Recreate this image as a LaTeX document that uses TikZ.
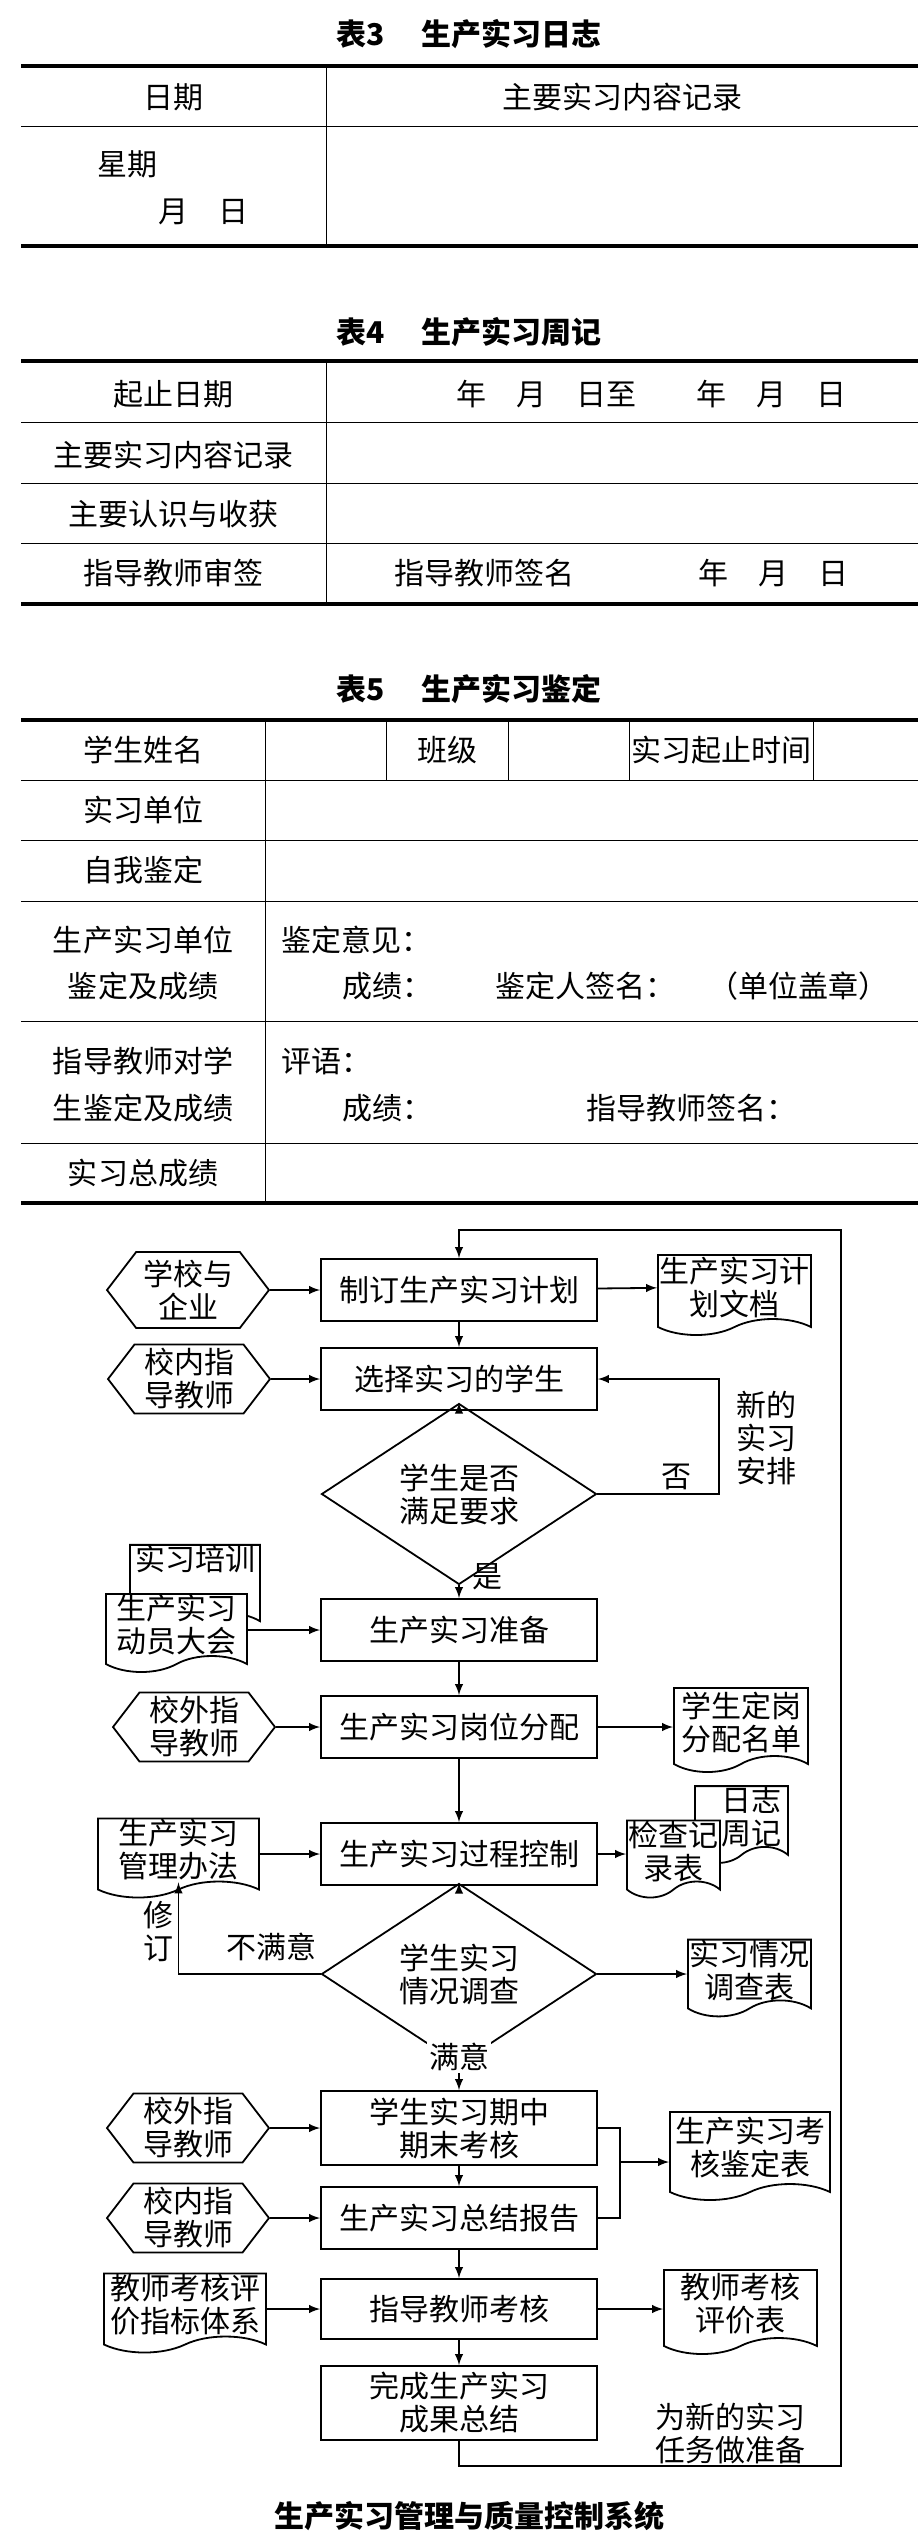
\documentclass[tikz,border=0pt]{standalone}
\usepackage{fontspec}
\setmainfont{Noto Sans CJK SC}
\usetikzlibrary{shapes.geometric,shapes.symbols}

\begin{document}
\begin{tikzpicture}[x=0.5pt,y=-0.5pt,line width=0.9pt,>=latex,
  font=\fontsize{15pt}{16.5pt}\selectfont,
  thickrule/.style={line width=1.75pt},
  thinrule/.style={line width=0.5pt},
  celltxt/.style={inner sep=0pt},
  lefttxt/.style={inner sep=0pt,anchor=west},
  ttlfont/.style={inner sep=0pt,font=\fontsize{15pt}{16.5pt}\selectfont\bfseries},
  flowtxt/.style={align=center,inner sep=1pt},
  procbox/.style={draw,minimum width=138pt,minimum height=31pt,align=center,inner sep=1pt},
  hexbox/.style={draw,signal,signal to=west and east,signal pointer angle=105,minimum width=81pt,minimum height=34.5pt,align=center,inner sep=0pt},
  docbox/.style={draw,fill=white,tape,tape bend top=none,tape bend bottom=in and out,tape bend height=8pt,align=center,inner sep=0pt},
  decbox/.style={draw,diamond,minimum width=137.5pt,minimum height=61pt,align=center,inner sep=0pt}]
  \useasboundingbox (0,0) rectangle (924,2538);

  \node[ttlfont] (T3) at (469,34) {表3\hspace{18pt}生产实习日志};
  \draw[thickrule] (21,66) -- (918,66) (21,246) -- (918,246);
  \draw[thinrule] (21,126) -- (918,126) (326,66) -- (326,246);
  \node[celltxt] (T3a) at (173.5,97) {日期};
  \node[celltxt] (T3b) at (622,97) {主要实习内容记录};
  \node[celltxt] (T3c) at (127,164) {星期};
  \node[celltxt] (T3d) at (203.5,212) {月\quad 日};

  \node[ttlfont] (T4) at (469,332) {表4\hspace{18pt}生产实习周记};
  \draw[thickrule] (21,361) -- (918,361) (21,604) -- (918,604);
  \draw[thinrule] (21,422) -- (918,422) (21,483) -- (918,483) (21,543) -- (918,543)
    (326,361) -- (326,604);
  \node[celltxt] (T4a) at (173.5,394) {起止日期};
  \node[celltxt] (T4b) at (651.5,394) {年\quad 月\quad 日至\qquad 年\quad 月\quad 日};
  \node[celltxt] (T4c) at (173.5,455) {主要实习内容记录};
  \node[celltxt] (T4d) at (173.5,514) {主要认识与收获};
  \node[celltxt] (T4e) at (173.5,573) {指导教师审签};
  \node[celltxt] (T4f) at (484,573) {指导教师签名};
  \node[celltxt] (T4g) at (773.5,573) {年\quad 月\quad 日};

  \node[ttlfont] (T5) at (469,689) {表5\hspace{18pt}生产实习鉴定};
  \draw[thickrule] (21,720) -- (918,720) (21,1203) -- (918,1203);
  \draw[thinrule] (21,780) -- (918,780) (21,840) -- (918,840) (21,901) -- (918,901)
    (21,1021) -- (918,1021) (21,1143) -- (918,1143) (265,720) -- (265,1203)
    (386,720) -- (386,780) (508,720) -- (508,780) (629,720) -- (629,780) (813,720) -- (813,780);
  \node[celltxt] (T5a) at (143,750) {学生姓名};
  \node[celltxt] (T5b) at (447,750) {班级};
  \node[celltxt] (T5c) at (721,750) {实习起止时间};
  \node[celltxt] (T5d) at (143,810) {实习单位};
  \node[celltxt] (T5e) at (143,870) {自我鉴定};
  \node[celltxt] (T5f) at (143,940) {生产实习单位};
  \node[celltxt] (T5g) at (143,986) {鉴定及成绩};
  \node[lefttxt] (T5h) at (281,940) {鉴定意见：};
  \node[lefttxt] (T5i) at (342,986) {成绩：};
  \node[lefttxt] (T5j) at (495,986) {鉴定人签名：};
  \node[lefttxt] (T5k) at (708,986) {（单位盖章）};
  \node[celltxt] (T5l) at (143,1061) {指导教师对学};
  \node[celltxt] (T5m) at (143,1108) {生鉴定及成绩};
  \node[lefttxt] (T5n) at (281,1061) {评语：};
  \node[lefttxt] (T5o) at (342,1108) {成绩：};
  \node[lefttxt] (T5p) at (586,1108) {指导教师签名：};
  \node[celltxt] (T5q) at (143,1173) {实习总成绩};

  \node[procbox] (Plan) at (459,1290) {制订生产实习计划};
  \node[hexbox,minimum height=38pt] (School) at (188,1290) {学校与\\企业};
  \node[docbox,minimum width=76.5pt,minimum height=40pt] (PlanDoc) at (734.5,1287) {生产实习计\\划文档};
  \node[procbox] (Select) at (459,1379) {选择实习的学生};
  \node[hexbox] (TutorIn) at (189,1379) {校内指\\导教师};
  \node[decbox] (Meet) at (459,1494) {学生是否\\满足要求};
  \node[flowtxt] (No) at (676,1477) {否};
  \node[flowtxt] (NewPlan) at (766,1438) {新的\\实习\\安排};
  \node[flowtxt] (Yes) at (487,1577) {是};
  \node[procbox] (Prep) at (459,1630) {生产实习准备};
  \node[docbox,minimum width=65pt,minimum height=39pt] (Train) at (195,1579) {实习培训\\ \strut};
  \node[docbox,minimum width=70.5pt,minimum height=39pt] (Mobil) at (176.5,1625) {生产实习\\动员大会};
  \node[procbox] (Post) at (459,1727) {生产实习岗位分配};
  \node[hexbox] (TutorOut) at (194,1727) {校外指\\导教师};
  \node[docbox,minimum width=67pt,minimum height=42pt] (PostDoc) at (741,1722) {学生定岗\\分配名单};
  \node[procbox] (Control) at (459,1854) {生产实习过程控制};
  \node[docbox,minimum width=80.5pt,minimum height=39.5pt] (Rules) at (178.5,1850) {生产实习\\管理办法};
  \node[docbox,minimum width=46.5pt,minimum height=35.5pt] (Diary) at (741.5,1816.5) {\hspace*{10pt}日志\\\hspace*{10pt}周记};
  \node[docbox,minimum width=46.5pt,minimum height=38.5pt] (Check) at (673.5,1851) {检查记\\录表};
  \node[decbox] (Survey) at (459,1974) {学生实习\\情况调查};
  \node[flowtxt] (Revise) at (158,1931) {修\\订};
  \node[flowtxt] (Unsat) at (271,1947) {不满意};
  \node[docbox,minimum width=61.5pt,minimum height=36.5pt] (SurveyDoc) at (749.5,1970) {实习情况\\调查表};
  \node[procbox,minimum height=37pt] (Exam) at (459,2128) {学生实习期中\\期末考核};
  \node[hexbox] (TutorOut2) at (188,2128) {校外指\\导教师};
  \node[docbox,minimum width=80pt,minimum height=44pt] (ExamDoc) at (750,2148) {生产实习考\\核鉴定表};
  \node[procbox] (Report) at (459,2218) {生产实习总结报告};
  \node[hexbox] (TutorIn2) at (188,2218) {校内指\\导教师};
  \node[procbox,minimum height=30pt] (Assess) at (459,2309) {指导教师考核};
  \node[docbox,minimum width=81pt,minimum height=39.5pt] (Index) at (185,2305) {教师考核评\\价指标体系};
  \node[docbox,minimum width=76.5pt,minimum height=42pt] (AssessDoc) at (740.5,2304) {教师考核\\评价表};
  \node[procbox,minimum height=37pt] (Finish) at (459,2403) {完成生产实习\\成果总结};
  \node[flowtxt] (NextTask) at (730,2433) {为新的实习\\任务做准备};
  \node[ttlfont] (Caption) at (469,2516) {生产实习管理与质量控制系统};

  \coordinate (NoR) at (719,1494);
  \coordinate (Join) at (620,2162);
  \coordinate (LoopR) at (841,2466);
  \coordinate (LoopT) at (841,1230);

  \draw[->] (School) -- (Plan);
  \draw[->] (Plan) -- (PlanDoc);
  \draw[->] (Plan) -- (Select);
  \draw[->] (TutorIn) -- (Select);
  \draw[->] (Select) -- (Meet);
  \draw[->] (Meet.east) -- (NoR) |- (Select.east);
  \draw[->] (Meet) -- (Prep);
  \draw[->] (Mobil.east |- Prep) -- (Prep);
  \draw[->] (Prep) -- (Post);
  \draw[->] (TutorOut) -- (Post);
  \draw[->] (Post) -- (PostDoc.west |- Post);
  \draw[->] (Post) -- (Control);
  \draw[->] (Rules.east |- Control) -- (Control);
  \draw[->] (Control) -- (Check.west |- Control);
  \draw[->] (Control) -- (Survey);
  \draw[->] (Survey.west) -| (Rules.south);
  \draw[->] (Survey) -- (SurveyDoc.west |- Survey);
  \draw[->] (Survey) -- (Exam);
  \node[fill=white,inner sep=1pt] (Sat) at (459,2057) {满意};
  \draw[->] (TutorOut2) -- (Exam);
  \draw[->] (Exam) -- (Report);
  \draw (Exam.east) -| (Join |- Report.east) -- (Report.east);
  \draw[->] (Join) -- (Join -| ExamDoc.west);
  \draw[->] (TutorIn2) -- (Report);
  \draw[->] (Report) -- (Assess);
  \draw[->] (Index.east |- Assess) -- (Assess);
  \draw[->] (Assess) -- (AssessDoc.west |- Assess);
  \draw[->] (Assess) -- (Finish);
  \draw[->] (Finish.south) -- (Finish.south |- LoopR) -- (LoopR) -- (LoopT) -| (Plan.north);
\end{tikzpicture}
\end{document}
